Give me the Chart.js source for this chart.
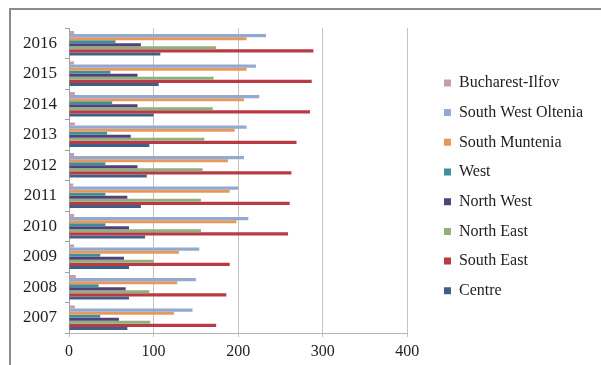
<!DOCTYPE html>
<html>
<head>
<meta charset="utf-8">
<title>Regions 2007-2016</title>
<style>
  html, body { margin: 0; padding: 0; background: #ffffff; }
  #wrap { width: 601px; height: 365px; }
</style>
<script src="https://cdn.jsdelivr.net/npm/chart.js@4/dist/chart.umd.min.js"></script>
</head>
<body>
<div id="wrap"><canvas id="chart" width="601" height="365"></canvas></div>
<script>
// Years, oldest first
const years = ['2007', '2008', '2009', '2010', '2011', '2012', '2013', '2014', '2015', '2016'];

// Values per development region, 2007 -> 2016
const centre           = [69, 71, 71, 90, 85, 92, 95, 100, 106, 108];
const southEast        = [174, 186, 190, 259, 261, 263, 269, 285, 287, 289];
const northEast        = [96, 95, 100, 156, 156, 158, 160, 170, 171, 174];
const northWest        = [59, 67, 65, 71, 69, 81, 73, 81, 81, 85];
const west             = [37, 35, 37, 43, 43, 43, 45, 51, 49, 55];
const southMuntenia    = [124, 128, 130, 198, 190, 188, 196, 207, 210, 210];
const southWestOltenia = [146, 150, 154, 212, 200, 207, 210, 225, 221, 233];
const bucharestIlfov   = [7, 8, 6, 6, 5, 6, 7, 7, 6, 6];

// Value axis ticks
const xTicks = [0, 100, 200, 300, 400];

// Series listed top-to-bottom inside each year group (same order as the legend)
const regionNames = ['Bucharest-Ilfov', 'South West Oltenia', 'South Muntenia', 'West',
                     'North West', 'North East', 'South East', 'Centre'];
const regionValues = [bucharestIlfov, southWestOltenia, southMuntenia, west,
                      northWest, northEast, southEast, centre];
const regionColours = ['#c49db1', '#93a9cf', '#e6995a', '#3f8f9a',
                       '#51407a', '#93ad7c', '#b83a43', '#3f5f88'];

// Newest year at the top of the chart
const yearLabels = years.slice().reverse();

const datasets = regionNames.map((name, i) => ({
  label: name,
  data: regionValues[i].slice().reverse(),
  backgroundColor: regionColours[i],
  borderWidth: 0,
  categoryPercentage: 0.8,
  barPercentage: 1.0
}));

// White background and the thin frame around the chart
const framePlugin = {
  id: 'frame',
  beforeDraw(chart) {
    const ctx = chart.ctx;
    ctx.save();
    ctx.fillStyle = '#ffffff';
    ctx.fillRect(0, 0, chart.width, chart.height);
    ctx.strokeStyle = '#8c8c8c';
    ctx.lineWidth = 2;
    ctx.beginPath();
    ctx.moveTo(9, 9);
    ctx.lineTo(chart.width, 9);
    ctx.moveTo(10, 9);
    ctx.lineTo(10, chart.height);
    ctx.stroke();
    ctx.restore();
  }
};

const serif = 'Liberation Serif, "Times New Roman", serif';

new Chart(document.getElementById('chart'), {
  type: 'bar',
  data: { labels: yearLabels, datasets },
  plugins: [framePlugin],
  options: {
    indexAxis: 'y',
    responsive: false,
    animation: false,
    devicePixelRatio: 1,
    layout: { padding: { left: 10, top: 28, right: 8, bottom: 0 } },
    plugins: {
      tooltip: { enabled: false },
      legend: {
        position: 'right',
        align: 'start',
        maxWidth: 200,
        // empty title used as top spacing for the legend column
        title: { display: true, text: '', font: { size: 10, lineHeight: 1 }, padding: { top: 11.6, bottom: 11.6 } },
        labels: {
          boxWidth: 7,
          boxHeight: 7,
          padding: 13.7,
          color: '#1e1e1e',
          font: { family: serif, size: 16 }
        }
      }
    },
    scales: {
      x: {
        type: 'linear',
        position: 'bottom',
        min: 0,
        max: 400,
        afterBuildTicks: s => { s.ticks = xTicks.map(v => ({ value: v })); },
        afterFit: s => { s.height = 32; },
        ticks: { color: '#1e1e1e', padding: 5, font: { family: serif, size: 16 } },
        grid: { color: '#c4c4c4', lineWidth: 1, tickLength: 4 },
        border: { color: '#b4b4b4', width: 1 }
      },
      y: {
        type: 'category',
        position: 'left',
        afterFit: s => { s.width = 59; },
        ticks: { color: '#1e1e1e', padding: 8, font: { family: serif, size: 17 } },
        grid: { drawOnChartArea: false, tickLength: 4, color: '#a0a0a0', offset: true },
        border: { color: '#a0a0a0', width: 1 }
      },
      // empty spacer between the plot area and the legend
      ySpacer: {
        type: 'category',
        position: 'right',
        afterFit: s => { s.width = 23; },
        ticks: { display: false },
        grid: { display: false },
        border: { display: false }
      }
    }
  }
});
</script>
</body>
</html>
